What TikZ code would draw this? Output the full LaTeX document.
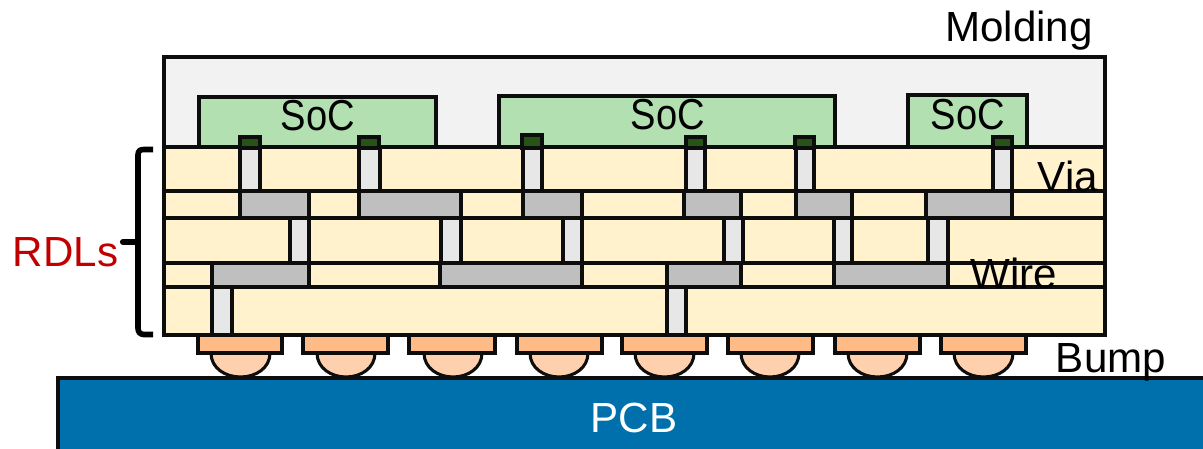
\documentclass[tikz,border=0pt]{standalone}
\usepackage{fontspec}
\setmainfont{Liberation Sans}
\definecolor{moldc}{HTML}{F2F2F2}
\definecolor{socc}{HTML}{B2E0B0}
\definecolor{layerc}{HTML}{FFF2CC}
\definecolor{wirec}{HTML}{BFBFBF}
\definecolor{viac}{HTML}{E7E7E7}
\definecolor{padc}{HTML}{275317}
\definecolor{bpadc}{HTML}{FFBB85}
\definecolor{ballc}{HTML}{FFD0AD}
\definecolor{pcbc}{HTML}{0070AD}
\definecolor{rdlc}{HTML}{C00000}
\tikzset{
  part/.style={draw=black!95,line width=2.3pt,line join=miter},
  mold/.style={part,fill=moldc},
  soc/.style={part,fill=socc},
  layer/.style={part,fill=layerc},
  wiremetal/.style={part,fill=wirec},
  viametal/.style={part,fill=viac},
  chippad/.style={part,fill=padc},
  bumppad/.style={part,fill=bpadc},
  bumpball/.style={part,fill=ballc},
  board/.style={part,fill=pcbc},
  lbl/.style={inner sep=0pt,anchor=base,font=\fontsize{31.6}{32}\selectfont},
  soclbl/.style={inner sep=0pt,anchor=base,xscale=0.88,font=\fontsize{32.5}{33}\selectfont},
}
\begin{document}
\begin{tikzpicture}[x=0.75pt,y=-0.75pt]
\useasboundingbox (0,0) rectangle (1203,449);
% PCB
\draw[board] (58,378) rectangle (1210,460);
% molding
\draw[mold] (164,57) rectangle (1105,147);
% SoC dies
\foreach \a/\b/\c/\d in {199/97/436/147,499/96/835/147,908/95/1027/147}
  \draw[soc] (\a,\b) rectangle (\c,\d);
% RDL layers
\foreach \t/\b in {147/191,191/218,218/263,263/287,287/335}
  \draw[layer] (164,\t) rectangle (1105,\b);
% bump pads and balls
\foreach \a/\b in {211/270,317/375,424/482,530/588,635/694,741/799,848/907,954/1013}
  \draw[bumpball] (\a,353) .. controls (\a,368) and ({\a+14},377) .. ({(\a+\b)/2},377)
     .. controls ({\b-14},377) and (\b,368) .. (\b,353) -- cycle;
\foreach \a/\b in {198/282,303/388,409/495,517/602,622/707,728/813,835/920,941/1026}
  \draw[bumppad] (\a,335) rectangle (\b,353);
% vias
\foreach \a/\b in {240/260,359/380,523/542,686/705,796/814,993/1012}
  \draw[viametal] (\a,147) rectangle (\b,191);
\foreach \a/\b in {290/309,441/461,563/582,724/743,834/852,928/948}
  \draw[viametal] (\a,218) rectangle (\b,263);
\foreach \a/\b in {212/232,667/686}
  \draw[viametal] (\a,287) rectangle (\b,335);
% wires
\foreach \a/\b in {240/309,359/461,523/582,684/741,796/852,926/1012}
  \draw[wiremetal] (\a,191) rectangle (\b,218);
\foreach \a/\b in {212/309,440/582,667/741,834/948}
  \draw[wiremetal] (\a,263) rectangle (\b,287);
% chip pads
\foreach \a/\b/\c in {240/260/137,359/379/137,522/542/135,686/705/137,795/814/137,993/1012/137}
  \draw[chippad] (\a,\c) rectangle (\b,148);
% RDL bracket
\coordinate (brTop) at (153,149.5);
\coordinate (brBot) at (153,334.5);
\coordinate (brTip) at (123,242);
\draw[line width=4.2pt,line join=round]
  (brTop) -- (144,149.5) .. controls (140,149.5) and (138,151) .. (138,155)
  -- (138,328) .. controls (138,332) and (140,334.5) .. (144,334.5) -- (brBot);
\draw[line width=4.6pt,line cap=round] (brTip) -- (137,242);
% labels
\node[lbl] (molding) at (1019,42) {Molding};
\node[soclbl] (soc1) at (318,131) {SoC};
\node[soclbl] (soc2) at (668,130) {SoC};
\node[soclbl] (soc3) at (968,130) {SoC};
\node[lbl] (via) at (1068,192) {Via};
\node[lbl] (wire) at (1014,288) {Wire};
\node[lbl] (bump) at (1111,372) {Bump};
\node[lbl,text=rdlc] (rdls) at (65.5,266) {RDLs};
\node[lbl,text=white] (pcb) at (634,432) {PCB};
\end{tikzpicture}
\end{document}
